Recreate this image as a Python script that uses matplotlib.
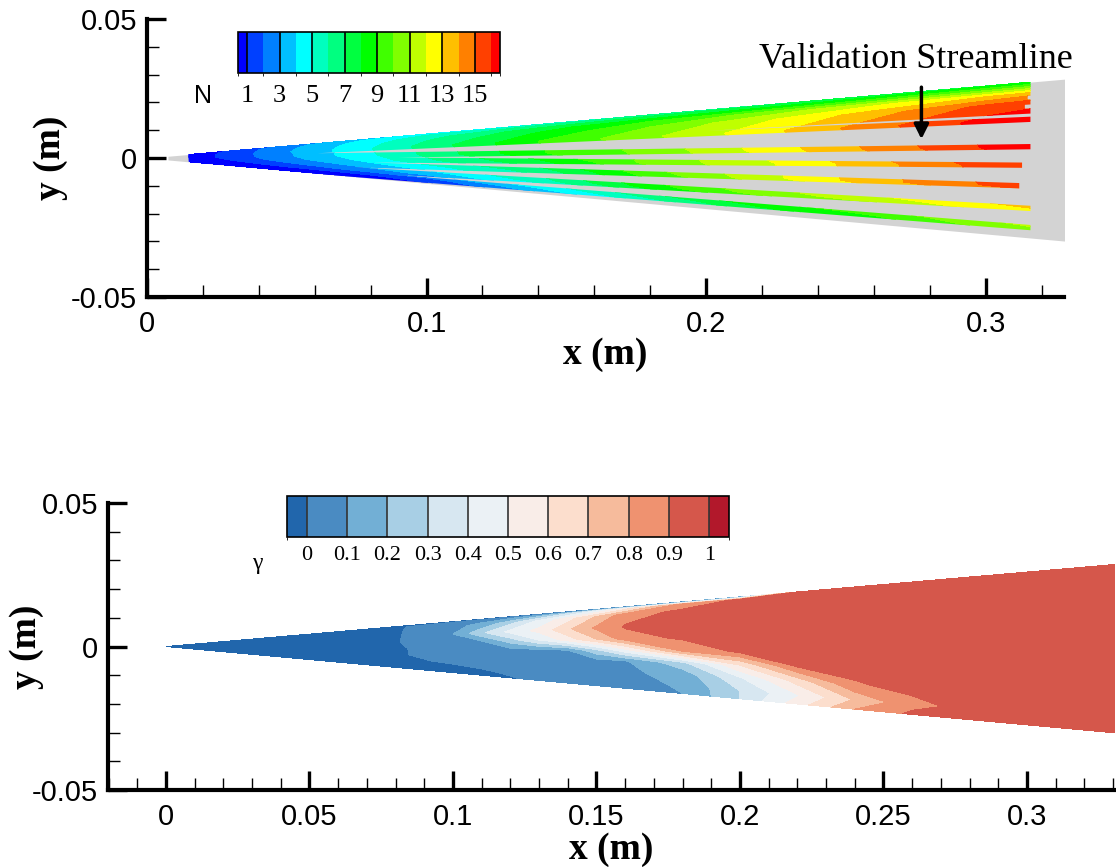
import numpy as np
import matplotlib
matplotlib.use("Agg")
import matplotlib.pyplot as plt
from matplotlib.path import Path
from matplotlib.colors import ListedColormap, BoundaryNorm
from matplotlib.cm import ScalarMappable
from matplotlib.ticker import MultipleLocator, FuncFormatter

plt.rcParams["font.family"] = ["Liberation Sans", "DejaVu Sans"]
plt.rcParams["axes.unicode_minus"] = False

# ---- geometry of the wedge (half-width slopes) ----
UPPER_SLOPE = 0.0865
LOWER_SLOPE = 0.091

# ---- top panel: N field read on (eta, x) stations ----
TOP_X = [0.015, 0.03, 0.05, 0.075, 0.10, 0.14, 0.18, 0.22, 0.26, 0.30, 0.335]
TOP_ETA = [-1.0, -0.85, -0.63, -0.35, -0.09, 0.15, 0.50, 0.72, 0.85, 0.95, 1.0]
TOP_N = [
    [0.1, 0.2, 0.4, 0.6, 0.9, 2.8, 5.0, 7.0, 8.0, 9.5, 10.0],
    [0.1, 0.3, 0.5, 0.8, 1.5, 4.0, 6.3, 8.3, 9.2, 10.7, 11.5],
    [0.1, 0.5, 1.2, 2.2, 3.3, 5.5, 8.5, 10.5, 11.5, 12.6, 13.4],
    [0.2, 0.9, 2.0, 3.3, 4.6, 6.5, 9.5, 11.6, 13.6, 15.1, 15.8],
    [0.3, 1.2, 2.6, 4.1, 5.8, 7.8, 10.3, 11.8, 13.6, 15.4, 16.6],
    [0.3, 1.4, 2.8, 4.5, 6.2, 8.9, 10.3, 12.3, 14.2, 16.1, 17.0],
    [0.3, 1.4, 2.9, 4.6, 6.4, 9.0, 10.8, 12.6, 14.6, 16.4, 17.2],
    [0.3, 1.3, 2.8, 4.4, 6.0, 8.2, 10.0, 11.8, 13.5, 15.3, 16.0],
    [0.3, 1.3, 2.7, 4.2, 5.6, 7.6, 9.0, 10.4, 11.8, 13.0, 14.0],
    [0.2, 1.2, 2.6, 3.9, 5.0, 6.3, 7.3, 8.0, 8.7, 9.5, 10.0],
    [0.2, 1.0, 2.3, 3.5, 4.3, 5.0, 6.2, 6.8, 7.3, 7.8, 8.2],
]
# streamlines: relative position between walls and end station
STREAM_ETA = [0.98, 0.92, 0.86, 0.80, 0.74, 0.68, 0.62, 0.51, 0.15, -0.09, -0.35, -0.63, -0.87]
STREAM_END = [0.316, 0.316, 0.316, 0.315, 0.316, 0.314, 0.316, 0.316, 0.316, 0.313,
              0.312, 0.316, 0.316]
STREAM_START = 0.015
STREAM_WIDTH = 0.0019
DOMAIN_TOP_X = [0.0075, 0.335]

N_COLORS = ["#0000ff", "#0040ff", "#0080ff", "#00bfff", "#00ffff", "#00ffbf",
            "#00ff80", "#00ff40", "#00ff00", "#40ff00", "#80ff00", "#bfff00",
            "#ffff00", "#ffbf00", "#ff8000", "#ff4000", "#ff0000"]
N_LEVELS = [-5] + list(range(1, 17)) + [40]
N_BOUNDS = [0.45] + list(range(1, 17)) + [16.55]
N_TICKS = [1, 3, 5, 7, 9, 11, 13, 15]

# ---- bottom panel: intermittency gamma on (eta, x) stations ----
G_X = [0.0, 0.075, 0.085, 0.10, 0.11, 0.12, 0.13, 0.14, 0.15, 0.16, 0.18,
       0.20, 0.22, 0.24, 0.26, 0.28, 0.335]
G_ETA = [-1.0, -0.85, -0.6, -0.35, -0.1, 0.2, 0.5, 0.8, 0.95, 1.0]
G_VAL = [
    [-0.05, -0.05, -0.04, -0.03, -0.02, -0.005, 0.013, 0.029, 0.044, 0.06, 0.10, 0.30, 0.55, 0.80, 0.92, 0.94, 0.95],
    [-0.05, -0.05, -0.04, -0.025, -0.008, 0.008, 0.023, 0.039, 0.055, 0.07, 0.109, 0.30, 0.49, 0.71, 0.87, 0.93, 0.95],
    [-0.05, -0.04, -0.01, 0.01, 0.021, 0.033, 0.045, 0.056, 0.068, 0.08, 0.138, 0.39, 0.64, 0.89, 0.93, 0.94, 0.95],
    [-0.05, -0.04, 0.002, 0.02, 0.031, 0.043, 0.054, 0.066, 0.077, 0.089, 0.27, 0.61, 0.905, 0.93, 0.94, 0.94, 0.95],
    [-0.05, -0.04, 0.003, 0.03, 0.05, 0.07, 0.085, 0.10, 0.27, 0.45, 0.80, 0.92, 0.93, 0.94, 0.94, 0.95, 0.95],
    [-0.05, -0.04, 0.02, 0.06, 0.10, 0.25, 0.40, 0.55, 0.70, 0.85, 0.92, 0.93, 0.94, 0.94, 0.95, 0.95, 0.95],
    [-0.05, -0.04, 0.017, 0.10, 0.28, 0.43, 0.53, 0.68, 0.82, 0.91, 0.93, 0.94, 0.94, 0.95, 0.95, 0.95, 0.95],
    [-0.05, -0.04, 0.012, 0.07, 0.13, 0.27, 0.42, 0.56, 0.71, 0.86, 0.92, 0.93, 0.94, 0.95, 0.95, 0.95, 0.95],
    [-0.05, -0.04, 0.005, 0.04, 0.064, 0.088, 0.167, 0.30, 0.433, 0.567, 0.833, 0.92, 0.93, 0.94, 0.95, 0.95, 0.95],
    [-0.05, -0.05, -0.05, -0.03, -0.025, -0.02, -0.015, -0.01, 0.0, 0.02, 0.06, 0.10, 0.90, 0.93, 0.94, 0.95, 0.95],
]
G_COLORS = ["#2166ac", "#4a8bc2", "#72afd5", "#a8cfe5", "#d7e7f1", "#ebf1f5",
            "#f9ede8", "#fcdecd", "#f6bb9c", "#ef9270", "#d5574b", "#b2182b"]
G_LEVELS = [-1.0, 0.0, 0.1, 0.2, 0.3, 0.4, 0.5, 0.6, 0.7, 0.8, 0.9, 1.0, 2.0]
G_BOUNDS = [-0.05, 0.0, 0.1, 0.2, 0.3, 0.4, 0.5, 0.6, 0.7, 0.8, 0.9, 1.0, 1.05]
G_TICKS = [0.0, 0.1, 0.2, 0.3, 0.4, 0.5, 0.6, 0.7, 0.8, 0.9, 1.0]

SERIF = ["Liberation Serif", "DejaVu Serif"]


def wedge_y(x, eta):
    x = np.asarray(x, dtype=float)
    eta = np.asarray(eta, dtype=float)
    return np.where(eta >= 0, eta * UPPER_SLOPE * x, eta * LOWER_SLOPE * x)


def fmt(v, pos=None):
    v = round(v, 4)
    if v == 0:
        return "0"
    return f"{v:g}"


def style_axes(ax, xmajor, xminor, xlim, ylabel_x):
    ax.set_xlim(*xlim)
    ax.set_ylim(-0.05, 0.05)
    for s in ["top", "right"]:
        ax.spines[s].set_visible(False)
    for s in ["left", "bottom"]:
        ax.spines[s].set_linewidth(3)
    ax.xaxis.set_major_locator(MultipleLocator(xmajor))
    ax.xaxis.set_minor_locator(MultipleLocator(xminor))
    ax.yaxis.set_major_locator(MultipleLocator(0.05))
    ax.yaxis.set_minor_locator(MultipleLocator(0.01))
    ax.xaxis.set_major_formatter(FuncFormatter(fmt))
    ax.yaxis.set_major_formatter(FuncFormatter(fmt))
    ax.tick_params(which="major", direction="in", length=14, width=2.4,
                   labelsize=21, pad=7)
    ax.tick_params(axis="x", which="major", pad=9)
    ax.tick_params(which="minor", direction="in", length=8.5, width=1.0)
    ax.set_xlabel("x (m)", family=SERIF, fontweight="bold", fontsize=27)
    ax.set_ylabel("y (m)", family=SERIF, fontweight="bold", fontsize=27)
    ax.xaxis.set_label_coords(0.5, -0.145)
    ax.yaxis.set_label_coords(ylabel_x, 0.5)


def draw_top(fig):
    ax = fig.add_axes([0.1317, 0.6574, 0.8217, 0.3206])
    style_axes(ax, 0.1, 0.02, (0, 0.328), -0.086)

    xd = np.array(DOMAIN_TOP_X)
    ax.fill_between(xd, -LOWER_SLOPE * xd, UPPER_SLOPE * xd, color="#d3d3d3", lw=0, zorder=1)

    X, E = np.meshgrid(TOP_X, TOP_ETA)
    Y = wedge_y(X, E)
    cs = ax.contourf(X, Y, np.array(TOP_N), levels=N_LEVELS, colors=N_COLORS, zorder=2)

    # streamline strips used as a mask for the flood
    verts, codes = [], []
    h = STREAM_WIDTH / 2
    for eta, xe in zip(STREAM_ETA, STREAM_END):
        y0 = float(wedge_y(STREAM_START, eta))
        y1 = float(wedge_y(xe, eta))
        verts += [(STREAM_START, y0 - h), (xe, y1 - h), (xe, y1 + h),
                  (STREAM_START, y0 + h), (STREAM_START, y0 - h)]
        codes += [Path.MOVETO, Path.LINETO, Path.LINETO, Path.LINETO, Path.CLOSEPOLY]
    cs.set_clip_path(Path(verts, codes), ax.transData)

    ax.annotate("", xy=(0.277, 0.0058), xytext=(0.277, 0.0265),
                arrowprops=dict(arrowstyle="-|>", lw=2.5, color="k", mutation_scale=22))
    ax.text(0.275, 0.0355, "Validation Streamline", family=SERIF, fontsize=26,
            ha="center", va="center")

    cax = fig.add_axes([0.2133, 0.9161, 0.2348, 0.0473])
    norm = BoundaryNorm(N_BOUNDS, len(N_COLORS))
    cb = fig.colorbar(ScalarMappable(norm=norm, cmap=ListedColormap(N_COLORS)),
                      cax=cax, orientation="horizontal", boundaries=N_BOUNDS,
                      spacing="proportional", ticks=N_TICKS)
    cb.outline.set_linewidth(1.2)
    for v in N_TICKS:
        cax.axvline(v, color="k", lw=1.2)
    cax.tick_params(length=0, pad=9, labelsize=19, labelfontfamily="Liberation Serif")
    fig.text(203 / 1116, 1 - 96 / 867, "N", fontsize=18, ha="center", va="center")


def draw_bottom(fig):
    ax = fig.add_axes([0.0968, 0.0888, 0.9023, 0.331])
    style_axes(ax, 0.05, 0.01, (-0.0202, 0.3307), -0.064)

    X, E = np.meshgrid(G_X, G_ETA)
    Y = wedge_y(X, E)
    ax.contourf(X, Y, np.array(G_VAL), levels=G_LEVELS, colors=G_COLORS)

    cax = fig.add_axes([0.2569, 0.3810, 0.3966, 0.0473])
    norm = BoundaryNorm(G_BOUNDS, len(G_COLORS))
    cb = fig.colorbar(ScalarMappable(norm=norm, cmap=ListedColormap(G_COLORS)),
                      cax=cax, orientation="horizontal", boundaries=G_BOUNDS,
                      spacing="proportional", ticks=G_TICKS, drawedges=True,
                      format=FuncFormatter(fmt))
    cb.outline.set_linewidth(1.2)
    cb.dividers.set_color("#333333")
    cb.dividers.set_linewidth(1.2)
    cax.tick_params(length=0, pad=7, labelsize=16, labelfontfamily="Liberation Serif")
    fig.text(257 / 1116, 1 - 563 / 867, "γ", family=SERIF, fontsize=17,
             ha="center", va="center")


def main():
    fig = plt.figure(figsize=(11.16, 8.67), dpi=100)
    draw_top(fig)
    draw_bottom(fig)
    fig.savefig("out.png", dpi=100)


if __name__ == "__main__":
    main()
